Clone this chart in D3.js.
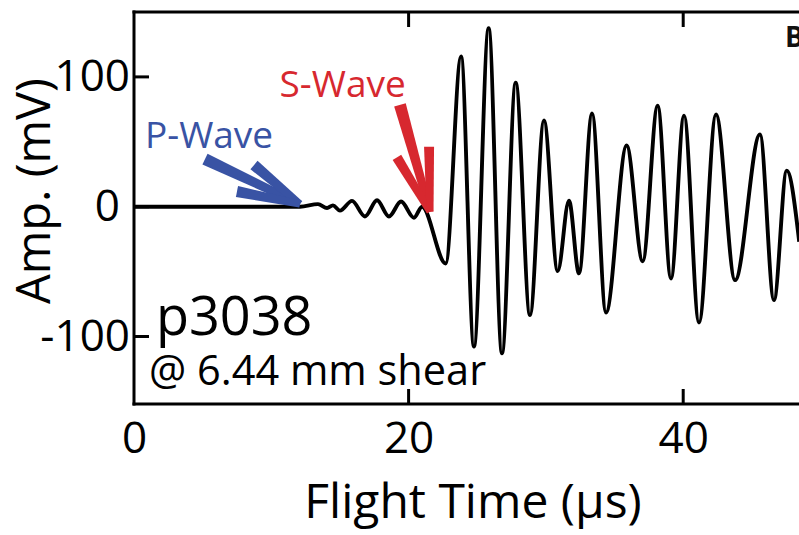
<!DOCTYPE html>
<html>
<head>
<meta charset="utf-8">
<script src="https://cdn.jsdelivr.net/npm/d3@7"></script>
<style>
  html, body { margin: 0; padding: 0; background: #fff; }
  svg { display: block; }
  text { font-family: "Open Sans", "Noto Sans", sans-serif; }
</style>
</head>
<body>
<svg id="chart" width="799" height="535"></svg>
<script>
// ---- Data ----
// Flight time (µs) of each turning point of the trace
const timeUs = [0, 12.09, 13.40, 14.06, 14.49, 15.00, 15.88, 16.82, 17.70, 18.57, 19.45, 20.39, 20.98,
  22.70, 23.82, 24.76, 25.83, 26.80, 27.80, 28.84, 29.86, 30.86, 31.68, 32.41, 33.36, 34.38,
  35.88, 37.05, 38.14, 39.11, 40.06, 41.15, 42.39, 43.78, 45.59, 46.61, 47.54, 48.45];
// Amplitude (mV) at those times
const ampMv = [0, 0, 2, -1, 1, -3, 4.5, -7.5, 5, -7.5, 4, -8.5, 0,
  -43.7, 115.7, -107.7, 137.5, -113, 95.6, -83.5, 66.4, -49.6, 4.7, -51.4, 71.8, -81.5,
  47.1, -42, 77.8, -55.3, 70.2, -89.2, 71, -56.6, 55.6, -72, 27.8, -27];

const xTicks = [0, 20, 40];
const yTicks = [-100, 0, 100];
const xTitle = "Flight Time (µs)";
const yTitle = "Amp. (mV)";
const sampleLabel = "p3038";
const shearLabel = "@ 6.44 mm shear";
const panelLabel = "B";
const pWaveLabel = "P-Wave";
const sWaveLabel = "S-Wave";
// arrow strokes in data units: [x0, y0, x1, y1]
const pArrow = [[5.17, 36.7, 12.09, 2.1], [8.74, 32.1, 12.09, 2.1], [7.50, 11.7, 12.09, 2.1]];
const sArrow = [[19.37, 78.4, 21.56, -3.9], [19.15, 38.0, 21.56, -3.9], [21.49, 46.2, 21.56, -3.9]];

// ---- Layout ----
const svg = d3.select("#chart");
const mLeft = 134, mTop = 12, mBottom = 404;
const x = d3.scaleLinear().domain([0, 50]).range([mLeft, mLeft + 50 * 13.73]);
const y = d3.scaleLinear().domain([-152, 150]).range([mBottom, mTop]);

const blue = "#3953a4", red = "#d7282f";

// trace
const line = d3.line().x((d, i) => x(timeUs[i])).y(d => y(d)).curve(d3.curveMonotoneX);
svg.append("path")
  .attr("d", line(ampMv))
  .attr("fill", "none")
  .attr("stroke", "#000")
  .attr("stroke-width", 3.9)
  .attr("stroke-linejoin", "round");

// axes
const axisG = svg.append("g");
axisG.append("line").attr("x1", mLeft).attr("x2", mLeft).attr("y1", mTop - 1.5).attr("y2", mBottom + 1.5)
  .attr("stroke", "#000").attr("stroke-width", 3);
axisG.append("line").attr("x1", mLeft - 1.5).attr("x2", x(50)).attr("y1", mBottom).attr("y2", mBottom)
  .attr("stroke", "#000").attr("stroke-width", 3);
axisG.append("line").attr("x1", mLeft - 1.5).attr("x2", x(50)).attr("y1", mTop).attr("y2", mTop)
  .attr("stroke", "#000").attr("stroke-width", 3);

const xAxis = d3.axisBottom(x).tickValues(xTicks).tickSize(0).tickPadding(18).tickFormat(d => String(d));
const gx = svg.append("g").attr("transform", `translate(0,${mBottom})`).call(xAxis);
gx.select(".domain").remove();
gx.selectAll("text").attr("font-size", 44).attr("fill", "#000").attr("dy", "0.71em")
  .attr("font-family", "Open Sans");
xTicks.filter(d => d > 0).forEach(d => {
  axisG.append("line").attr("x1", x(d)).attr("x2", x(d)).attr("y1", mBottom).attr("y2", mBottom - 15)
    .attr("stroke", "#000").attr("stroke-width", 3);
  axisG.append("line").attr("x1", x(d)).attr("x2", x(d)).attr("y1", mTop).attr("y2", mTop + 15)
    .attr("stroke", "#000").attr("stroke-width", 3);
});

const yAxis = d3.axisLeft(y).tickValues(yTicks).tickSize(0).tickPadding(4).tickFormat(d => String(d));
const gy = svg.append("g").attr("transform", `translate(${mLeft},0)`).call(yAxis);
gy.select(".domain").remove();
gy.selectAll("text").attr("font-size", 44).attr("fill", "#000").attr("font-family", "Open Sans")
  .attr("dx", d => d === 0 ? -10 : 0);
yTicks.forEach(d => {
  axisG.append("line").attr("x1", mLeft).attr("x2", mLeft + 15).attr("y1", y(d)).attr("y2", y(d))
    .attr("stroke", "#000").attr("stroke-width", 3);
});

// axis titles
svg.append("text").attr("x", 473).attr("y", 518).attr("text-anchor", "middle")
  .attr("font-size", 48).attr("fill", "#000").text(xTitle);
svg.append("text").attr("transform", "translate(50,191) rotate(-90)").attr("text-anchor", "middle")
  .attr("font-size", 47).attr("fill", "#000").text(yTitle);

// annotations
svg.append("text").attr("x", x(1.6)).attr("y", y(-98.8)).attr("font-size", 54).attr("fill", "#000").text(sampleLabel);
svg.append("text").attr("x", x(1.1)).attr("y", y(-137)).attr("font-size", 41.5).attr("fill", "#000").text(shearLabel);
svg.append("text").attr("x", 785).attr("y", 47).attr("font-size", 28).attr("font-weight", "bold").attr("fill", "#111").text(panelLabel);

svg.append("text").attr("x", x(0.8)).attr("y", y(45.2)).attr("font-size", 37).attr("fill", blue).text(pWaveLabel);
svg.append("text").attr("x", x(10.6)).attr("y", y(84.7)).attr("font-size", 37).attr("fill", red).text(sWaveLabel);

function strokePoly(seg, w0, w1) {
  const [a, b, c, d] = seg;
  const x0 = x(a), y0 = y(b), x1 = x(c), y1 = y(d);
  const dx = x1 - x0, dy = y1 - y0, L = Math.hypot(dx, dy);
  const nx = -dy / L, ny = dx / L;
  return [[x0 + nx * w0 / 2, y0 + ny * w0 / 2], [x1 + nx * w1 / 2, y1 + ny * w1 / 2],
          [x1 - nx * w1 / 2, y1 - ny * w1 / 2], [x0 - nx * w0 / 2, y0 - ny * w0 / 2]];
}
const arrowG = svg.append("g");
pArrow.forEach((s, i) => {
  arrowG.append("polygon").attr("points", strokePoly(s, i === 0 ? 12 : 11, 7).join(" ")).attr("fill", blue);
});
sArrow.forEach((s, i) => {
  arrowG.append("polygon").attr("points", strokePoly(s, i === 0 ? 12 : 10, 7).join(" ")).attr("fill", red);
});
</script>
</body>
</html>
